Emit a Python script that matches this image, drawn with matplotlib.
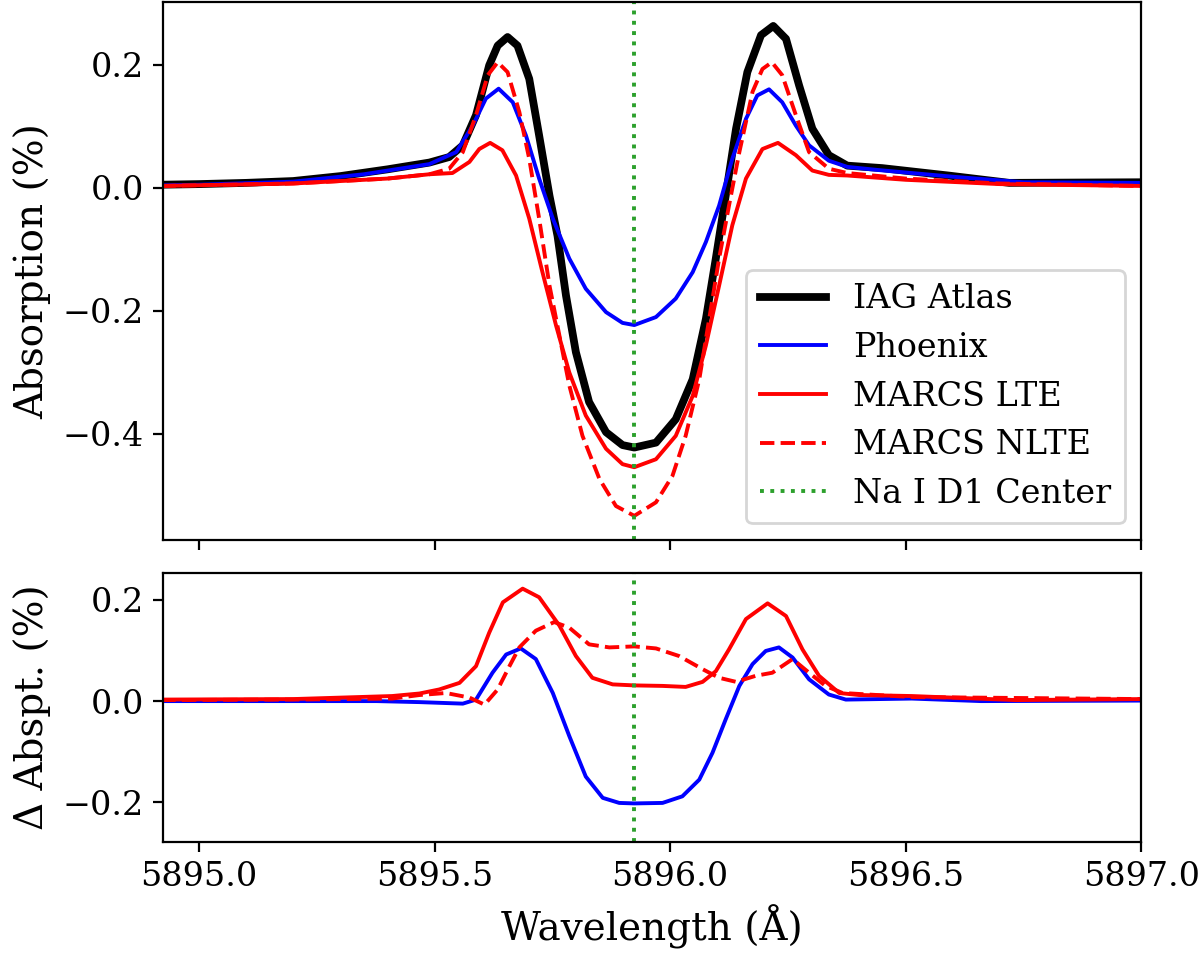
import numpy as np
import matplotlib
matplotlib.use("Agg")
import matplotlib.pyplot as plt

plt.rcParams["font.family"] = "DejaVu Serif"
plt.rcParams["font.size"] = 12
plt.rcParams["lines.solid_joinstyle"] = "round"
plt.rcParams["lines.dash_joinstyle"] = "round"

na_d1 = 5895.924

# top panel: absorption profiles (%)
wl_iag = [5894.92, 5895.0, 5895.1, 5895.2, 5895.3, 5895.4, 5895.489, 5895.531, 5895.560, 5895.588,
          5895.616, 5895.634, 5895.655, 5895.676, 5895.701, 5895.722, 5895.744, 5895.761, 5895.779,
          5895.800, 5895.828, 5895.864, 5895.899, 5895.924, 5895.970, 5896.012, 5896.048, 5896.076,
          5896.097, 5896.118, 5896.140, 5896.164, 5896.193, 5896.219, 5896.246, 5896.274, 5896.302,
          5896.337, 5896.376, 5896.45, 5896.59, 5896.72, 5897.0]
ab_iag = [0.005, 0.006, 0.008, 0.011, 0.019, 0.030, 0.041, 0.050, 0.069, 0.118,
          0.199, 0.231, 0.245, 0.231, 0.177, 0.085, -0.013, -0.078, -0.175,
          -0.267, -0.348, -0.397, -0.418, -0.422, -0.414, -0.376, -0.311, -0.213,
          -0.115, -0.013, 0.096, 0.188, 0.248, 0.263, 0.242, 0.166, 0.096,
          0.053, 0.036, 0.032, 0.020, 0.008, 0.009]

wl_phx = [5894.92, 5895.0, 5895.2, 5895.35, 5895.489, 5895.546, 5895.581, 5895.609, 5895.636,
          5895.666, 5895.694, 5895.722, 5895.751, 5895.786, 5895.821, 5895.864, 5895.899, 5895.924,
          5895.970, 5896.012, 5896.048, 5896.076, 5896.104, 5896.132, 5896.161, 5896.185, 5896.210,
          5896.238, 5896.267, 5896.295, 5896.337, 5896.376, 5896.44, 5896.6, 5896.75, 5897.0]
ab_phx = [0.004, 0.005, 0.010, 0.022, 0.0385, 0.058, 0.101, 0.145, 0.161,
          0.139, 0.085, 0.015, -0.050, -0.115, -0.164, -0.202, -0.2195, -0.223,
          -0.210, -0.180, -0.137, -0.088, -0.029, 0.047, 0.112, 0.150, 0.160,
          0.139, 0.101, 0.069, 0.044, 0.034, 0.029, 0.018, 0.009, 0.008]

wl_lte = [5894.92, 5895.2, 5895.4, 5895.489, 5895.538, 5895.574, 5895.595, 5895.618, 5895.644,
          5895.673, 5895.701, 5895.729, 5895.758, 5895.786, 5895.821, 5895.864, 5895.899, 5895.924,
          5895.970, 5896.012, 5896.048, 5896.076, 5896.104, 5896.132, 5896.161, 5896.196, 5896.229,
          5896.267, 5896.302, 5896.337, 5896.376, 5896.5, 5896.7, 5897.0]
ab_lte = [0.003, 0.007, 0.015, 0.022, 0.024, 0.042, 0.063, 0.073, 0.061,
          0.020, -0.050, -0.137, -0.224, -0.300, -0.370, -0.424, -0.449, -0.454,
          -0.441, -0.403, -0.338, -0.256, -0.159, -0.061, 0.015, 0.063, 0.073,
          0.053, 0.028, 0.021, 0.020, 0.013, 0.006, 0.003]

wl_nlte = [5894.92, 5895.2, 5895.4, 5895.489, 5895.531, 5895.560, 5895.588, 5895.613, 5895.634,
           5895.655, 5895.680, 5895.701, 5895.722, 5895.744, 5895.765, 5895.786, 5895.814, 5895.850,
           5895.885, 5895.924, 5895.970, 5896.005, 5896.033, 5896.062, 5896.083, 5896.104, 5896.125,
           5896.147, 5896.175, 5896.196, 5896.216, 5896.238, 5896.267, 5896.295, 5896.337, 5896.376,
           5896.5, 5896.7, 5897.0]
ab_nlte = [0.003, 0.007, 0.015, 0.022, 0.031, 0.058, 0.118, 0.183, 0.204,
           0.188, 0.123, 0.047, -0.050, -0.159, -0.240, -0.321, -0.403, -0.473,
           -0.517, -0.533, -0.511, -0.468, -0.403, -0.311, -0.213, -0.115, -0.029,
           0.058, 0.156, 0.193, 0.204, 0.183, 0.118, 0.058, 0.031, 0.024,
           0.015, 0.007, 0.003]

# bottom panel: model minus IAG atlas (%)
wl_d_phx = [5894.92, 5895.2, 5895.377, 5895.468, 5895.560, 5895.588, 5895.623, 5895.652, 5895.683,
            5895.715, 5895.751, 5895.786, 5895.821, 5895.857, 5895.892, 5895.924, 5895.984, 5896.026,
            5896.062, 5896.090, 5896.118, 5896.147, 5896.175, 5896.203, 5896.231, 5896.260, 5896.295,
            5896.337, 5896.373, 5896.513, 5896.66, 5897.0]
d_phx = [0.0, 0.0, 0.0, -0.002, -0.005, 0.003, 0.056, 0.092, 0.104,
         0.083, 0.016, -0.069, -0.149, -0.191, -0.201, -0.202, -0.201, -0.188,
         -0.155, -0.102, -0.036, 0.030, 0.073, 0.099, 0.106, 0.086, 0.043,
         0.013, 0.003, 0.005, 0.0, 0.001]

wl_d_lte = [5894.92, 5895.2, 5895.41, 5895.468, 5895.510, 5895.553, 5895.588, 5895.616, 5895.645,
            5895.687, 5895.722, 5895.765, 5895.800, 5895.835, 5895.878, 5895.924, 5895.984, 5896.033,
            5896.069, 5896.097, 5896.125, 5896.161, 5896.207, 5896.246, 5896.281, 5896.316, 5896.359,
            5896.401, 5896.513, 5896.734, 5897.0]
d_lte = [0.003, 0.004, 0.010, 0.015, 0.023, 0.036, 0.069, 0.135, 0.195,
         0.222, 0.205, 0.149, 0.089, 0.046, 0.033, 0.031, 0.030, 0.028,
         0.038, 0.059, 0.102, 0.162, 0.193, 0.168, 0.102, 0.050, 0.016,
         0.012, 0.010, 0.002, 0.004]

wl_d_nlte = [5894.92, 5895.2, 5895.41, 5895.468, 5895.524, 5895.574, 5895.606, 5895.634, 5895.659,
             5895.680, 5895.715, 5895.754, 5895.786, 5895.828, 5895.871, 5895.924, 5895.970, 5896.019,
             5896.069, 5896.104, 5896.140, 5896.182, 5896.217, 5896.260, 5896.295, 5896.330, 5896.366,
             5896.513, 5897.0]
d_nlte = [0.002, 0.003, 0.005, 0.012, 0.016, 0.007, -0.007, 0.023, 0.069,
          0.106, 0.139, 0.156, 0.145, 0.112, 0.106, 0.108, 0.104, 0.089,
          0.063, 0.046, 0.038, 0.050, 0.056, 0.083, 0.056, 0.030, 0.016,
          0.008, 0.004]

fig, (ax1, ax2) = plt.subplots(2, 1, sharex=True, figsize=(6, 4.8), dpi=200,
                               gridspec_kw={"height_ratios": [2, 1], "hspace": 0.082})
fig.subplots_adjust(left=0.136, right=0.951, top=0.998, bottom=0.123)

ax1.plot(wl_iag, ab_iag, color="black", lw=2.8, label="IAG Atlas")
ax1.plot(wl_phx, ab_phx, color="blue", lw=1.4, label="Phoenix")
ax1.plot(wl_lte, ab_lte, color="red", lw=1.4, label="MARCS LTE")
ax1.plot(wl_nlte, ab_nlte, color="red", lw=1.4, ls="--", label="MARCS NLTE")
ax1.axvline(na_d1, color="tab:green", ls=":", lw=1.4, label="Na I D1 Center")
ax1.set_ylim(-0.572, 0.302)
ax1.set_yticks([-0.4, -0.2, 0.0, 0.2])
ax1.set_ylabel("Absorption (%)", fontsize=14)
ax1.legend(loc="lower right", fontsize=12)

ax2.plot(wl_d_phx, d_phx, color="blue", lw=1.4)
ax2.plot(wl_d_lte, d_lte, color="red", lw=1.4)
ax2.plot(wl_d_nlte, d_nlte, color="red", lw=1.4, ls="--")
ax2.axvline(na_d1, color="tab:green", ls=":", lw=1.4)
ax2.set_ylim(-0.278, 0.253)
ax2.set_yticks([-0.2, 0.0, 0.2])
ax2.set_ylabel("Δ Abspt. (%)", fontsize=14)
ax2.set_xlim(5894.924, 5897.0)
ax2.set_xticks([5895.0, 5895.5, 5896.0, 5896.5, 5897.0])
ax2.set_xlabel("Wavelength (Å)", fontsize=14)

fig.align_ylabels([ax1, ax2])
plt.savefig("out.png", dpi=200)
